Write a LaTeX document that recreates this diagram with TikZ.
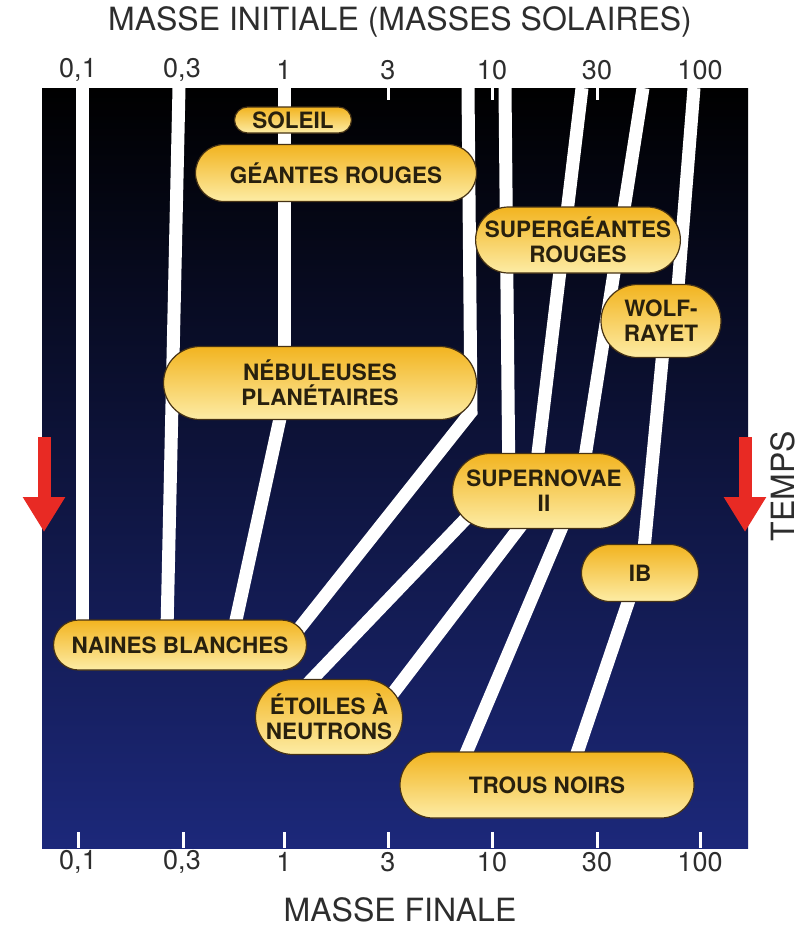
\documentclass[tikz,border=0pt]{standalone}
\usepackage{fontspec}
\setmainfont{TeX Gyre Heros}
\usetikzlibrary{arrows.meta,shapes.misc,backgrounds}

\definecolor{boxtop}{RGB}{242,180,32}
\definecolor{boxbot}{RGB}{253,236,165}
\definecolor{boxline}{RGB}{70,50,20}
\definecolor{boxtext}{RGB}{40,32,14}
\definecolor{navy}{RGB}{28,40,122}
\definecolor{midnavy}{RGB}{8,12,52}
\definecolor{arrowred}{RGB}{232,42,36}
\definecolor{axisgrey}{RGB}{45,45,45}

\tikzset{
  stage/.style={rounded rectangle, draw=boxline, line width=1.2pt, top color=boxtop, bottom color=boxbot,
    inner sep=0pt, align=center, text=boxtext, font=\fontsize{22.5}{25}\selectfont\bfseries},
  track/.style={white, line width=13pt},
  tickmark/.style={white, line width=3pt},
  axislabel/.style={font=\fontsize{32}{36}\selectfont, text=axisgrey},
  ticklabel/.style={font=\fontsize{27}{30}\selectfont, text=axisgrey},
  timearrow/.style={arrowred, line width=13pt, -{Triangle[length=35pt 0, width=40pt 0]}},
}

\begin{document}
\begin{tikzpicture}[x=1pt, y=-1pt]
	\useasboundingbox (0,0) rectangle (810,927);
	% stages of evolution
	\node[stage, minimum width=117pt, minimum height=26pt] (sol) at (293,120) {SOLEIL};
	\node[stage, minimum width=281pt, minimum height=57pt] (gr) at (336,173) {GÉANTES ROUGES};
	\node[stage, minimum width=195pt, minimum height=66pt] (sgr) at (578,240) {SUPERGÉANTES\\ROUGES};
	\node[stage, minimum width=120pt, minimum height=73pt] (wr) at (661,321) {WOLF-\\RAYET};
	\node[stage, minimum width=313pt, minimum height=73pt] (np) at (320,383) {NÉBULEUSES\\PLANÉTAIRES};
	\node[stage, minimum width=183pt, minimum height=75pt] (sn) at (544,491) {SUPERNOVAE\\II};
	\node[stage, minimum width=117pt, minimum height=57pt] (ib) at (640,573) {IB};
	\node[stage, minimum width=253pt, minimum height=50pt] (nb) at (180,645) {NAINES BLANCHES};
	\node[stage, minimum width=147pt, minimum height=75pt] (en) at (329,717) {ÉTOILES À\\NEUTRONS};
	\node[stage, minimum width=294pt, minimum height=66pt] (tn) at (547,785) {TROUS NOIRS};

	% axes
	\node[axislabel] (minit) at (400,22) {MASSE INITIALE (MASSES SOLAIRES)};
	\node[axislabel] (mfin) at (400,910) {MASSE FINALE};
	\node[axislabel, rotate=90] (temps) at (783,486) {TEMPS};
	\foreach \lab/\xx in {{0,1}/78,{0,3}/182,1/284,3/388,10/492,30/597,100/700} {
		\node[ticklabel] (top\xx) at (\xx,70) {\lab};
		\node[ticklabel] (bot\xx) at (\xx,862) {\lab};
	}

	\coordinate (m01) at (82,88);
	\coordinate (m03) at (179,88);
	\coordinate (m1) at (284,88);
	\coordinate (m8) at (468,88);
	\coordinate (m12) at (505,88);
	\coordinate (m25) at (582,88);
	\coordinate (m50) at (643,88);
	\coordinate (m100) at (694,88);
	\coordinate (bend8) at (471,412);

	\begin{scope}[on background layer]
		\shade[top color=black, middle color=midnavy, bottom color=navy] (42,88) rectangle (748,848);
		\foreach \xx in {388,492,597} \draw[tickmark] (\xx,88) -- (\xx,100);
		\foreach \xx in {78,183,284,388,492,597,700} \draw[tickmark] (\xx,832) -- (\xx,848);
		% tracks
		\draw[track] (m01) -- (m01 |- nb);
		\draw[track] (m03) -- ([xshift=-13pt,yshift=-10pt]nb.north);
		\draw[track] (m1) -- (m1 |- np);
		\draw[track] ([xshift=-36pt,yshift=-17pt]np.center) -- ([xshift=54pt,yshift=-10pt]nb.north);
		\draw[track] (m8) -- (bend8) -- ([xshift=-17pt,yshift=5pt]nb.east);
		\draw[track] (m12) -- ([xshift=-35pt]sn.center);
		\draw[track] ([xshift=-65pt,yshift=-14pt]sn.center) -- ([xshift=-32pt,yshift=22pt]en.center);
		\draw[track] (m25) -- ([xshift=-8pt,yshift=21pt]sn.center);
		\draw[track] ([xshift=-15pt,yshift=-24pt]sn.center) -- ([xshift=55pt,yshift=12pt]en.center);
		\draw[track] (m50) -- ([xshift=39pt,yshift=21pt]sn.center);
		\draw[track] ([xshift=23pt,yshift=-24pt]sn.center) -- ([xshift=-88pt,yshift=15pt]tn.center);
		\draw[track] (m100) -- ([xshift=16pt,yshift=21pt]wr.center);
		\draw[track] ([xshift=3pt,yshift=-19pt]wr.center) -- ([xshift=3pt,yshift=13pt]ib.center);
		\draw[track] ([xshift=-7pt,yshift=-15pt]ib.center) -- ([xshift=26pt,yshift=20pt]tn.center);
	\end{scope}

	% time arrows
	\draw[timearrow] (44,437) -- (44,532);
	\draw[timearrow] (745,437) -- (745,532);
\end{tikzpicture}
\end{document}
